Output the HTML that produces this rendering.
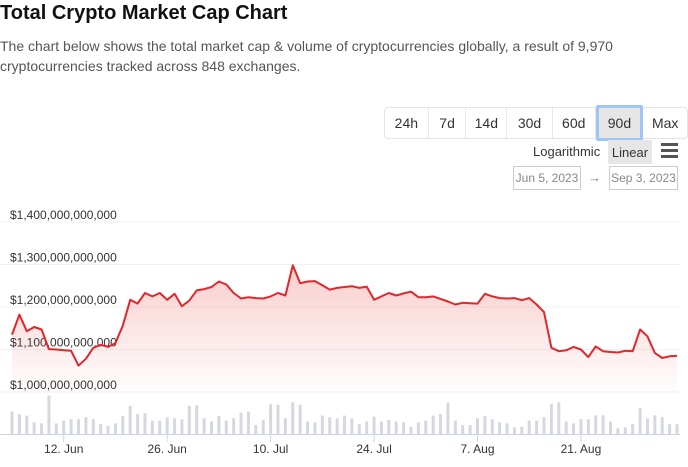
<!DOCTYPE html>
<html><head><meta charset="utf-8">
<style>
body{margin:0;width:688px;height:467px;background:#fff;font-family:"Liberation Sans",sans-serif;position:relative;overflow:hidden;color:#333}
h1{position:absolute;left:0;top:2px;margin:0;font-size:20px;font-weight:bold;color:#111;letter-spacing:0px}
p.desc{position:absolute;left:0;top:36px;margin:0;width:688px;font-size:14px;line-height:20px;color:#555}
.btns{position:absolute;left:384px;top:107px;height:32px;border:1px solid #e3e3e3;border-radius:4px;display:flex;box-sizing:border-box;width:304px}
.btns div{font-size:14px;color:#333;display:flex;align-items:center;justify-content:center;border-right:1px solid #e8e8e8;box-sizing:border-box}
.btns .sel{background:#e6e6e6;border:3px solid #9dc5f5;margin-top:-3px;height:36px;border-radius:2px}
.abs{position:absolute;font-size:13px;white-space:nowrap}
.date{position:absolute;top:166px;height:24px;border:1px solid #ccc;box-sizing:border-box;font-size:12px;color:#888;display:flex;align-items:center;justify-content:center;white-space:nowrap;overflow:hidden}
</style></head><body>
<h1>Total Crypto Market Cap Chart</h1>
<p class="desc">The chart below shows the total market cap &amp; volume of cryptocurrencies globally, a result of 9,970 cryptocurrencies tracked across 848 exchanges.</p>
<div class="btns">
<div style="width:44px">24h</div>
<div style="width:38px">7d</div>
<div style="width:41px">14d</div>
<div style="width:46px">30d</div>
<div style="width:43px">60d</div>
<div class="sel" style="width:48px">90d</div>
<div style="width:44px;border-right:none">Max</div>
</div>
<div class="abs" style="left:533px;top:144px;color:#333">Logarithmic</div>
<div class="abs" style="left:608px;top:140px;width:44px;height:24px;background:#e6e6e6;display:flex;align-items:center;justify-content:center">Linear</div>
<div class="abs" style="left:661px;top:143px;width:17px">
<div style="height:3px;background:#555;margin-bottom:3px"></div><div style="height:3px;background:#555;margin-bottom:3px"></div><div style="height:3px;background:#555"></div></div>
<div class="date" style="left:513px;width:68px">Jun 5, 2023</div>
<div class="abs" style="left:588px;top:170px;color:#888">→</div>
<div class="date" style="left:609px;width:69px">Sep 3, 2023</div>
<svg id="chart" width="688" height="467" style="position:absolute;left:0;top:0">
<defs><linearGradient id="g" x1="0" y1="0" x2="0" y2="1"><stop offset="0" stop-color="#e53935" stop-opacity="0.25"/><stop offset="1" stop-color="#e53935" stop-opacity="0.01"/></linearGradient></defs>
</svg>
<script>
const marketCap=[1.135,1.182,1.143,1.153,1.147,1.101,1.100,1.098,1.097,1.062,1.078,1.104,1.111,1.106,1.115,1.156,1.217,1.208,1.233,1.225,1.233,1.217,1.231,1.202,1.215,1.239,1.242,1.247,1.260,1.253,1.233,1.220,1.223,1.221,1.220,1.225,1.233,1.227,1.298,1.256,1.260,1.261,1.251,1.241,1.245,1.247,1.249,1.245,1.248,1.217,1.225,1.233,1.227,1.232,1.236,1.223,1.223,1.225,1.219,1.213,1.206,1.210,1.209,1.208,1.231,1.225,1.221,1.220,1.221,1.216,1.221,1.206,1.188,1.104,1.096,1.098,1.106,1.100,1.082,1.107,1.096,1.094,1.093,1.097,1.096,1.147,1.131,1.092,1.080,1.084,1.085];
const volumes=[67,59,55,35,32,115,32,40,44,44,50,44,30,24,32,54,84,60,62,40,40,50,47,44,84,86,47,38,54,40,47,64,67,27,42,89,87,47,95,87,37,35,55,50,47,55,47,29,37,52,37,42,37,35,22,35,40,55,59,94,40,27,27,47,54,44,35,32,20,22,40,40,50,89,94,37,32,44,44,56,56,37,17,20,29,77,47,56,50,29,29];
const yTicks=[1.0,1.1,1.2,1.3,1.4];
const yTickLabels=["$1,000,000,000,000","$1,100,000,000,000","$1,200,000,000,000","$1,300,000,000,000","$1,400,000,000,000"];
const xTickDays=[7,21,35,49,63,77];
const xTickLabels=["12. Jun","26. Jun","10. Jul","24. Jul","7. Aug","21. Aug"];
const NS="http://www.w3.org/2000/svg";
const svg=document.getElementById('chart');
const x0=12,x1=677,nDays=90;
const xs=d=>x0+(x1-x0)*d/nDays;
const ys=v=>392-(v-1.0)*425;
const vBase=434,vs=v=>vBase-v*0.335;
function mk(t,a){const e=document.createElementNS(NS,t);for(const k in a)e.setAttribute(k,a[k]);svg.appendChild(e);return e;}
yTicks.forEach((t,i)=>{
 const l=mk('line',{x1:0,x2:680,y1:ys(t),y2:ys(t),stroke:'#f0f1f4','stroke-width':1});
 
 
 const tx=mk('text',{x:10,y:ys(t)-3,'font-size':12,fill:'#333','font-family':'Liberation Sans, sans-serif'});
 tx.textContent=yTickLabels[i];
 
 
});
let pts=marketCap.map((v,i)=>xs(i).toFixed(1)+','+ys(v).toFixed(1));
const area=mk('path',{d:'M'+xs(0)+','+ys(1.0)+' L'+pts.join(' L')+' L'+xs(marketCap.length-1)+','+ys(1.0)+'Z',fill:'url(#g)'});


volumes.forEach((v,i)=>{
 const b=mk('rect',{x:xs(i)-1.5,y:vs(v),width:3,height:vBase-vs(v),fill:'#d6d8e0'});
 
 
});
const ln=mk('polyline',{points:pts.join(' '),fill:'none',stroke:'#e0272b','stroke-width':2,'stroke-linejoin':'round'});


const ax=mk('line',{x1:0,x2:680,y1:vBase+0.5,y2:vBase+0.5,stroke:'#ccd6eb','stroke-width':1});


xTickDays.forEach((d,i)=>{
 const t=mk('line',{x1:xs(d),x2:xs(d),y1:vBase,y2:vBase+8,stroke:'#ccd6eb'});
 
 
 const tx=mk('text',{x:xs(d),y:453,'font-size':12,fill:'#333','text-anchor':'middle','font-family':'Liberation Sans, sans-serif'});
 tx.textContent=xTickLabels[i];
 
 
});
</script>
</body></html>
